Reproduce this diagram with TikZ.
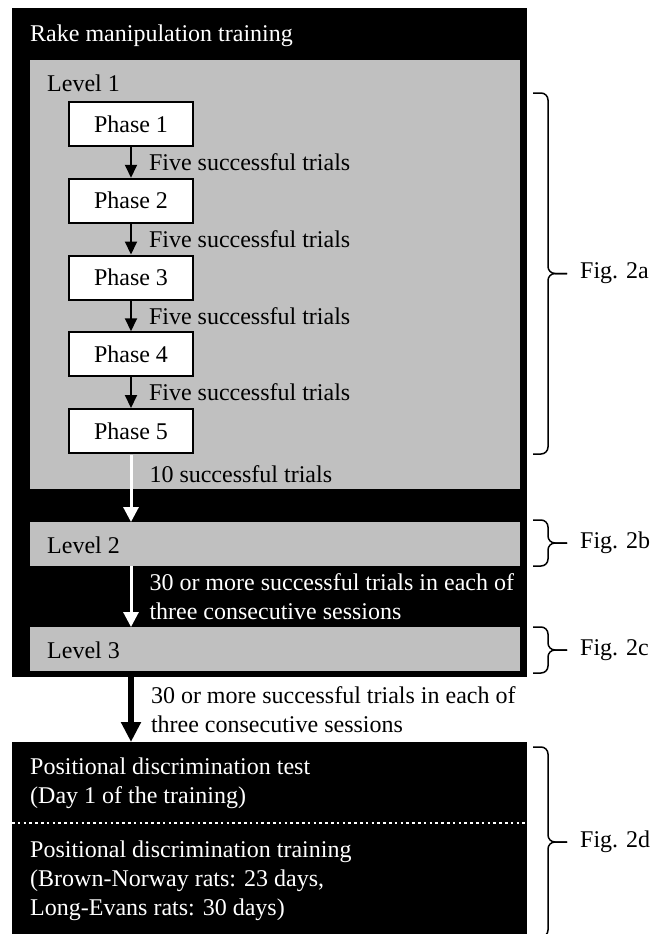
\documentclass[tikz,border=0pt]{standalone}
\usepackage{fontspec}
\setmainfont{Liberation Serif}
\usepackage{tikz}
\usetikzlibrary{arrows.meta, positioning, calc}
\definecolor{lvlgray}{RGB}{192,192,192}
\tikzset{>={Triangle[length=13pt, width=12pt]}}
\tikzset{
  blackbox/.style={fill=black, inner sep=0pt, anchor=north west},
  levelbox/.style={fill=lvlgray, inner sep=0pt, anchor=north west},
  phasebox/.style={draw=black, fill=white, line width=2pt, minimum width=124pt, minimum height=44pt, inner sep=0pt},
  txt/.style={inner sep=0pt, anchor=base west, align=left},
  steplabel/.style={right, inner sep=0pt, xshift=17pt, align=left},
  blkarrow/.style={->, line width=2pt},
  wharrow/.style={-{Triangle[length=15pt, width=15pt]}, white, line width=3pt},
  bigarrow/.style={-{Triangle[length=20pt, width=19pt]}, black, line width=6pt},
  figbrace/.style={line width=1.5pt, rounded corners=7pt},
}

\begin{document}
\begin{tikzpicture}[x=1pt, y=-1pt, font=\fontsize{24}{29}\selectfont]
\useasboundingbox (0,0) rectangle (650,934);

% Rake manipulation frame
\node[blackbox, minimum width=515, minimum height=669] (rake) at (12,8) {};
\node[txt, text=white] (raketitle) at (30,42) {Rake manipulation training};

% Levels
\node[levelbox, minimum width=490, minimum height=429] (lvl1) at (30,60) {};
\node[txt] (lvl1title) at (47,92) {Level 1};
\node[levelbox, minimum width=490, minimum height=44] (lvl2) at (30,522) {};
\node[txt] (lvl2title) at (47,553) {Level 2};
\node[levelbox, minimum width=490, minimum height=44] (lvl3) at (30,627) {};
\node[txt] (lvl3title) at (47,658) {Level 3};

% Phases of level 1
\foreach \i in {1,...,5}
    \node[phasebox] (phase\i) at ({131},{124+76.75*(\i-1)}) {Phase \i};
\foreach \i/\j in {1/2, 2/3, 3/4, 4/5}
    \draw[blkarrow] (phase\i) -- (phase\j) node[midway, steplabel] {Five successful trials};

% Between levels
\draw[wharrow, shorten <=1pt] (phase5) -- (phase5 |- lvl2.north)
    node[pos=0.3, steplabel, text=black] {10 successful trials};
\draw[wharrow] (phase5 |- lvl2.south) -- (phase5 |- lvl3.north)
    node[midway, steplabel, text=white] {30 or more successful trials in each of\\three consecutive sessions};

% Positional discrimination
\node[blackbox, minimum width=515, minimum height=192] (posdisc) at (12,742) {};
\draw[bigarrow] (phase5 |- rake.south) -- (phase5 |- posdisc.north)
    node[midway, steplabel] {30 or more successful trials in each of\\three consecutive sessions};
% base of a multi-line node = its last line
\node[txt, text=white] (postest) at (30,803) {Positional discrimination test\\(Day 1 of the training)};
\draw[white, line width=2.5pt, dash pattern=on 2.5pt off 3.3pt] (posdisc.west |- 0,823) -- (posdisc.east |- 0,823);
\node[txt, text=white] (postrain) at (30,915) {Positional discrimination training\\(Brown-Norway rats: 23 days,\\Long-Evans rats: 30 days)};

% Figure braces
\foreach \t/\b/\l in {93/454/a, 520/566/b, 627/673/c, 747/937/d} {
    \pgfmathsetmacro{\m}{(\t+\b)/2}
    \draw[figbrace] (533,\t) -- (548,\t) -- (548,\m) -- (567,\m);
    \draw[figbrace] (567,\m) -- (548,\m) -- (548,\b) -- (533,\b);
    \node[anchor=west, inner sep=0pt] (fig\l) at (580,\m) {Fig. 2\l};
}

\end{tikzpicture}
\end{document}
